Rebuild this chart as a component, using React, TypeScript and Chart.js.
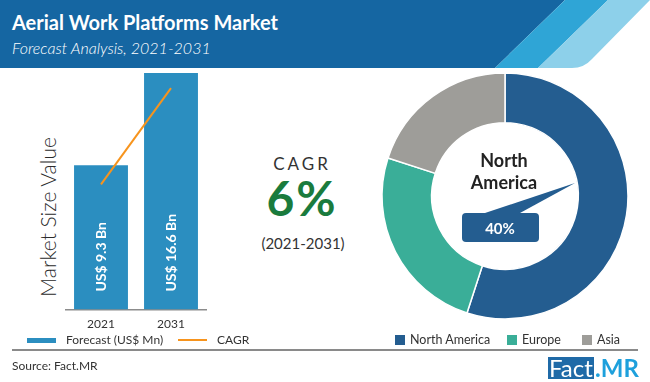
import React, { useEffect, useRef } from "react";
import { Chart, registerables } from "chart.js";
Chart.register(...registerables);

// ---------- data ----------
const YEARS = ["2021", "2031"];
const MARKET_VALUES = [9.3, 16.6]; // US$ Bn
const BAR_LABELS = ["US$ 9.3 Bn", "US$ 16.6 Bn"];
const CAGR_LINE = [7.8, 15.4];
const VALUE_AXIS_MIN = -2.1;
const VALUE_AXIS_MAX = 16.6;
const REGIONS = ["North America", "Europe", "Asia"];
const REGION_SHARES = [55, 25, 20];
const HIGHLIGHT_SHARE = "40%";
const CAGR_VALUE = "6%";
const CAGR_PERIOD = "(2021-2031)";

const BAR_COLOR = "#2b8ec0";
const LINE_COLOR = "#f7941d";
const REGION_COLORS = ["#245d90", "#3aae98", "#9e9d99"];
const FONT = "Lato, 'Open Sans', sans-serif";
const TEXT = "#333333";

const barLabelPlugin = {
  id: "barLabels",
  afterDatasetsDraw(chart: any) {
    const idx = chart.data.datasets.findIndex((d: any) => d.type === "bar");
    const meta = chart.getDatasetMeta(idx);
    const ctx = chart.ctx;
    ctx.save();
    ctx.fillStyle = "#ffffff";
    ctx.font = `bold 14px ${FONT}`;
    ctx.textAlign = "left";
    ctx.textBaseline = "middle";
    meta.data.forEach((bar: any, i: number) => {
      ctx.save();
      ctx.translate(bar.x, bar.base - 18);
      ctx.rotate(-Math.PI / 2);
      ctx.fillText(BAR_LABELS[i], 0, 0);
      ctx.restore();
    });
    ctx.restore();
  },
};

function BarChart() {
  const ref = useRef<HTMLCanvasElement | null>(null);
  useEffect(() => {
    if (!ref.current) return;
    const chart = new Chart(ref.current, {
      type: "bar",
      data: {
        labels: YEARS,
        datasets: [
          {
            type: "line",
            label: "CAGR",
            data: CAGR_LINE,
            borderColor: LINE_COLOR,
            borderWidth: 2,
            pointRadius: 0,
            order: 0,
          } as any,
          {
            type: "bar",
            label: "Forecast (US$ Mn)",
            data: MARKET_VALUES,
            backgroundColor: BAR_COLOR,
            base: VALUE_AXIS_MIN,
            barPercentage: 0.77,
            categoryPercentage: 1,
            order: 1,
          } as any,
        ],
      },
      options: {
        animation: false,
        responsive: false,
        maintainAspectRatio: false,
        layout: { padding: { left: 66, right: 24, top: 11, bottom: 0 } },
        plugins: { legend: { display: false }, tooltip: { enabled: false } },
        scales: {
          x: {
            grid: { display: false, drawTicks: false },
            border: { display: true, color: "#8c8c8c", width: 1.5 },
            ticks: { color: TEXT, font: { family: FONT, size: 12 }, padding: 7 },
          },
          y: { display: false, min: VALUE_AXIS_MIN, max: VALUE_AXIS_MAX },
        },
      },
      plugins: [barLabelPlugin],
    });
    return () => chart.destroy();
  }, []);
  return (
    <canvas
      ref={ref}
      width={230}
      height={276}
      style={{ position: "absolute", left: 0, top: 62, width: 230, height: 276 }}
    />
  );
}

function Donut() {
  const ref = useRef<HTMLCanvasElement | null>(null);
  useEffect(() => {
    if (!ref.current) return;
    const chart = new Chart(ref.current, {
      type: "doughnut",
      data: {
        labels: REGIONS,
        datasets: [
          {
            data: REGION_SHARES,
            backgroundColor: REGION_COLORS,
            borderColor: "#ffffff",
            borderWidth: 1.5,
          },
        ],
      },
      options: {
        animation: false,
        responsive: false,
        maintainAspectRatio: false,
        radius: 123,
        cutout: 77,
        plugins: { legend: { display: false }, tooltip: { enabled: false } },
      } as any,
    });
    return () => chart.destroy();
  }, []);
  return (
    <canvas
      ref={ref}
      width={260}
      height={260}
      style={{ position: "absolute", left: 375, top: 66, width: 260, height: 260 }}
    />
  );
}

const abs = (o: React.CSSProperties): React.CSSProperties => ({ position: "absolute", ...o });

export default function App() {
  return (
    <div
      style={{
        position: "fixed",
        left: 0,
        top: 0,
        width: 650,
        height: 382,
        background: "#ffffff",
        overflow: "hidden",
        fontFamily: FONT,
        color: TEXT,
      }}
    >
      {/* header */}
      <svg width={650} height={68} style={abs({ left: 0, top: 0 })}>
        <polygon points="0,0 565,0 495,68 0,68" fill="#1566a2" />
        <polygon points="565,0 608,0 538,68 495,68" fill="#2fa5d6" />
        <path d="M608,0 L650,0 L592,59 Q584,68 572,68 L538,68 Z" fill="#8dd0ea" />
      </svg>
      <div style={abs({ left: 12, top: 10, fontSize: 20, lineHeight: "24px", fontWeight: 700, color: "#fff", whiteSpace: "nowrap" })}>
        Aerial Work Platforms Market
      </div>
      <div style={abs({ left: 12, top: 38, fontSize: 16, lineHeight: "19px", fontStyle: "italic", fontWeight: 300, color: "#fff", whiteSpace: "nowrap" })}>
        Forecast Analysis, 2021-2031
      </div>

      {/* bar chart */}
      <div
        style={abs({
          left: 47,
          top: 217,
          fontSize: 21,
          lineHeight: "21px",
          fontWeight: 300,
          whiteSpace: "nowrap",
          transform: "translate(-50%, -50%) rotate(-90deg)",
          color: "#2b2b2b",
        })}
      >
        Market Size Value
      </div>
      <BarChart />

      {/* CAGR */}
      <div style={abs({ left: 302, top: 154, transform: "translateX(-50%)", fontSize: 17, lineHeight: "20px", letterSpacing: 3, whiteSpace: "nowrap" })}>
        CAGR
      </div>
      <div style={abs({ left: 302, top: 171, transform: "translateX(-50%)", fontSize: 48, lineHeight: "54px", fontWeight: 700, color: "#1a7b3d", letterSpacing: 2, whiteSpace: "nowrap" })}>
        {CAGR_VALUE}
      </div>
      <div style={abs({ left: 303, top: 234, transform: "translateX(-50%)", fontSize: 15, lineHeight: "18px", whiteSpace: "nowrap" })}>
        {CAGR_PERIOD}
      </div>

      {/* donut */}
      <Donut />
      <div style={abs({ left: 504, top: 149, transform: "translateX(-50%)", fontSize: 18, lineHeight: "22px", fontWeight: 700, color: "#222", textAlign: "center", whiteSpace: "nowrap" })}>
        North
        <br />
        America
      </div>
      <svg width={650} height={382} style={abs({ left: 0, top: 0, pointerEvents: "none" })}>
        <polygon points="485,213 520,213 575,183" fill={REGION_COLORS[0]} />
        <rect x={462} y={213} width={77} height={29} rx={4} fill={REGION_COLORS[0]} />
      </svg>
      <div style={abs({ left: 500, top: 219, transform: "translateX(-50%)", fontSize: 15, lineHeight: "18px", fontWeight: 700, color: "#fff" })}>
        {HIGHLIGHT_SHARE}
      </div>

      {/* legends */}
      <div style={abs({ left: 27, top: 338, width: 29, height: 5, background: BAR_COLOR })} />
      <div style={abs({ left: 66, top: 332, fontSize: 12, lineHeight: "16px", whiteSpace: "nowrap" })}>Forecast (US$ Mn)</div>
      <div style={abs({ left: 178, top: 339, width: 29, height: 2, background: LINE_COLOR })} />
      <div style={abs({ left: 217, top: 332, fontSize: 12, lineHeight: "16px" })}>CAGR</div>

      {REGIONS.map((r, i) => {
        const sx = [395, 507, 582][i];
        return (
          <React.Fragment key={r}>
            <div style={abs({ left: sx, top: 335, width: 10, height: 10, background: REGION_COLORS[i] })} />
            <div style={abs({ left: sx + 15, top: 332, fontSize: 12.5, lineHeight: "16px", whiteSpace: "nowrap" })}>{r}</div>
          </React.Fragment>
        );
      })}

      <div style={abs({ left: 12, top: 349, width: 626, height: 1.5, background: "#8a8a8a" })} />
      <div style={abs({ left: 12, top: 358, fontSize: 12, lineHeight: "16px", whiteSpace: "nowrap" })}>Source: Fact.MR</div>

      {/* logo */}
      <div style={abs({ left: 548, top: 357, width: 46, height: 22, background: "#1f6aa7" })} />
      <div style={abs({ left: 549, top: 355, fontSize: 24, lineHeight: "26px", color: "#fff", whiteSpace: "nowrap" })}>Fact</div>
      <div style={abs({ left: 595, top: 355, fontSize: 24, lineHeight: "26px", fontWeight: 700, color: "#1ea0dc", whiteSpace: "nowrap" })}>.MR</div>
    </div>
  );
}
